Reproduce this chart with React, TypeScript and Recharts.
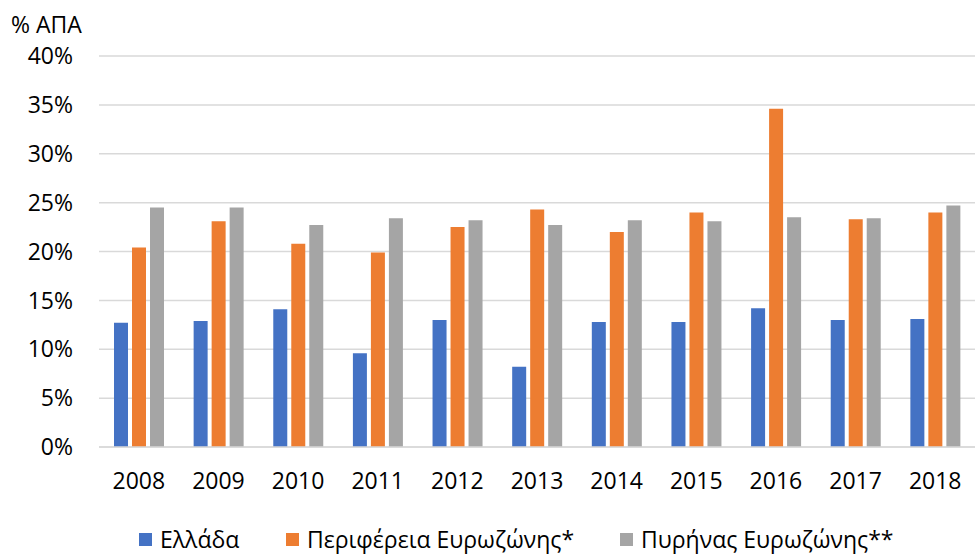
import { BarChart, Bar, XAxis, YAxis, CartesianGrid } from "recharts";

const years = ["2008", "2009", "2010", "2011", "2012", "2013", "2014", "2015", "2016", "2017", "2018"];
const greece = [12.7, 12.9, 14.1, 9.6, 13.0, 8.2, 12.8, 12.8, 14.2, 13.0, 13.1];
const periphery = [20.4, 23.1, 20.8, 19.9, 22.5, 24.3, 22.0, 24.0, 34.6, 23.3, 24.0];
const core = [24.5, 24.5, 22.7, 23.4, 23.2, 22.7, 23.2, 23.1, 23.5, 23.4, 24.7];
const yTicks = [0, 5, 10, 15, 20, 25, 30, 35, 40];

const seriesNames = ["Ελλάδα", "Περιφέρεια Ευρωζώνης*", "Πυρήνας Ευρωζώνης**"];
const colors = ["#4472C4", "#ED7D31", "#A5A5A5"];
// where each legend entry starts (px from the left)
const legendLeft = [139, 286, 620];

const data = years.map((year, i) => ({
    year,
    greece: greece[i],
    periphery: periphery[i],
    core: core[i],
}));

const font = "'Open Sans', sans-serif";
const tickStyle = { fontSize: 23, fill: "#000", fontFamily: font };

export default function App() {
    return (
        <div style={{ position: "absolute", left: 0, top: 0, width: 975, height: 554, background: "#fff", fontFamily: font, overflow: "hidden" }}>
            <div style={{ position: "absolute", left: 11, top: 9, fontSize: 23, lineHeight: "30px", color: "#000" }}>
                % ΑΠΑ
            </div>
            <BarChart
                width={975}
                height={510}
                data={data}
                barSize={14}
                barGap={4}
                margin={{ top: 56, right: 0, left: 0, bottom: 3 }}
            >
                <CartesianGrid vertical={false} stroke="#d9d9d9" strokeWidth={1.5} />
                <XAxis
                    dataKey="year"
                    height={60}
                    tick={tickStyle}
                    tickLine={false}
                    tickSize={0}
                    tickMargin={26}
                    axisLine={{ stroke: "#d9d9d9", strokeWidth: 1.5 }}
                />
                <YAxis
                    width={99}
                    domain={[0, 40]}
                    ticks={yTicks}
                    tickFormatter={(v) => `${v}%`}
                    tick={tickStyle}
                    tickLine={false}
                    tickSize={0}
                    tickMargin={26}
                    axisLine={false}
                />
                <Bar dataKey="greece" fill={colors[0]} isAnimationActive={false} />
                <Bar dataKey="periphery" fill={colors[1]} isAnimationActive={false} />
                <Bar dataKey="core" fill={colors[2]} isAnimationActive={false} />
            </BarChart>
            {seriesNames.map((name, i) => (
                <div
                    key={name}
                    style={{ position: "absolute", left: legendLeft[i], top: 526, height: 26, display: "flex", alignItems: "center", fontSize: 23, lineHeight: "26px", color: "#000", whiteSpace: "nowrap" }}
                >
                    <span style={{ width: 13, height: 13, background: colors[i], marginRight: 8, display: "inline-block" }} />
                    <span>{name}</span>
                </div>
            ))}
        </div>
    );
}
